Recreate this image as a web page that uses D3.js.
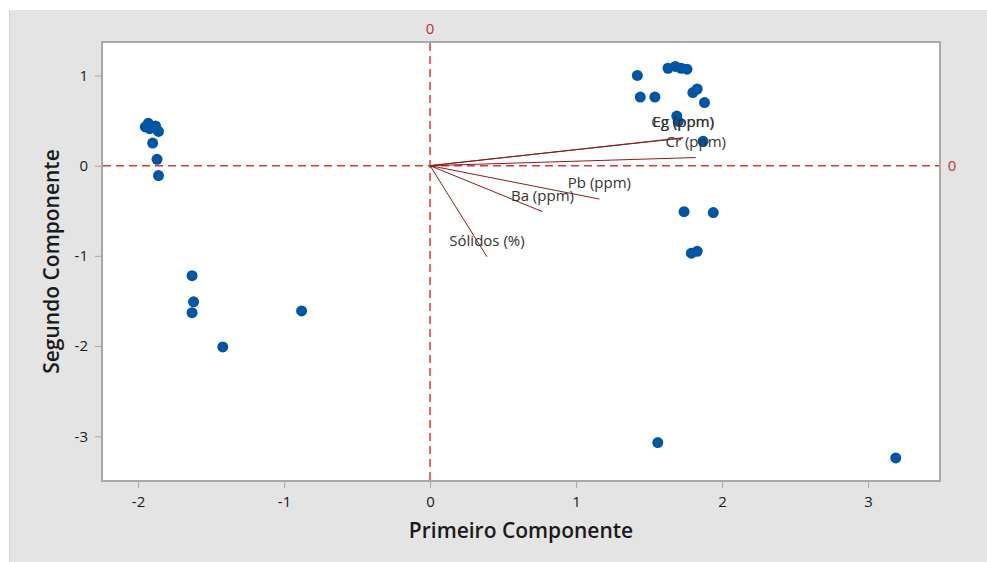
<!DOCTYPE html>
<html>
<head>
<meta charset="utf-8">
<script src="https://cdn.jsdelivr.net/npm/d3@7"></script>
<style>
  html, body { margin: 0; padding: 0; background: #ffffff; }
  svg { display: block; font-family: "Open Sans", "Noto Sans", sans-serif; }
</style>
</head>
<body>
<svg id="chart" width="987" height="562"></svg>
<script>
// Principal component scores (first, second)
const scoreX = [-1.93, -1.95, -1.92, -1.88, -1.86, -1.90, -1.87, -1.86,
                -1.63, -1.62, -1.63, -1.42, -0.88,
                 1.42, 1.63, 1.68, 1.72, 1.76, 1.44, 1.54, 1.80, 1.83, 1.88, 1.69, 1.70, 1.87,
                 1.74, 1.94, 1.79, 1.83,
                 1.56, 3.19];
const scoreY = [ 0.47, 0.43, 0.41, 0.44, 0.38, 0.25, 0.07, -0.11,
                -1.22, -1.51, -1.63, -2.01, -1.61,
                 1.00, 1.08, 1.10, 1.08, 1.07, 0.76, 0.76, 0.81, 0.85, 0.70, 0.55, 0.49, 0.27,
                -0.51, -0.52, -0.97, -0.95,
                -3.07, -3.24];

// Variable loadings (vector end points)
const varNames = ["Cg (ppm)", "Eg (ppm)", "Cr (ppm)", "Pb (ppm)", "Ba (ppm)", "Sólidos (%)"];
const loadX = [1.73, 1.735, 1.82, 1.16, 0.77, 0.39];
const loadY = [0.305, 0.31, 0.09, -0.37, -0.51, -1.01];

const xTicks = [-2, -1, 0, 1, 2, 3];
const yTicks = [1, 0, -1, -2, -3];

const svg = d3.select("#chart");
const W = 987, H = 562;
const m = { left: 102, right: 940, top: 42, bottom: 481 };

// Panel background
svg.append("rect").attr("x", 9).attr("y", 10).attr("width", W - 9).attr("height", H - 10)
  .attr("fill", "#e4e4e4");
svg.append("line").attr("x1", 9.5).attr("x2", 9.5).attr("y1", 10).attr("y2", H)
  .attr("stroke", "#d2d2d2").attr("stroke-width", 1);

const x = d3.scaleLinear().domain([-2.247, 3.493]).range([m.left, m.right]);
const y = d3.scaleLinear().domain([-3.496, 1.371]).range([m.bottom, m.top]);

// Plot area
svg.append("rect").attr("x", m.left).attr("y", m.top)
  .attr("width", m.right - m.left).attr("height", m.bottom - m.top)
  .attr("fill", "#ffffff").attr("stroke", "#a8a8a8").attr("stroke-width", 2);

// Axes (plain hyphen for negative ticks)
const fmt = d => String(d);
const xAxis = svg.append("g").attr("transform", `translate(0,${m.bottom + 1})`)
  .call(d3.axisBottom(x).tickValues(xTicks).tickSize(6).tickPadding(8).tickFormat(fmt));
const yAxis = svg.append("g").attr("transform", `translate(${m.left - 1},0)`)
  .call(d3.axisLeft(y).tickValues(yTicks).tickSize(6).tickPadding(7).tickFormat(fmt));
[xAxis, yAxis].forEach(g => {
  g.select(".domain").remove();
  g.selectAll(".tick line").attr("stroke", "#a8a8a8");
  g.selectAll(".tick text").attr("fill", "#1a1a1a").attr("font-size", 15)
    .attr("font-family", "'Liberation Sans Narrow', 'Open Sans', sans-serif");
});

// Axis titles
svg.append("text").attr("x", (m.left + m.right) / 2).attr("y", 538)
  .attr("text-anchor", "middle").attr("font-size", 21).attr("font-weight", 600)
  .attr("fill", "#1a1a1a").text("Primeiro Componente");
svg.append("text").attr("transform", `translate(59,${(m.top + m.bottom) / 2}) rotate(-90)`)
  .attr("text-anchor", "middle").attr("font-size", 21).attr("font-weight", 600)
  .attr("fill", "#1a1a1a").text("Segundo Componente");

// Reference lines at zero
const refColor = "#e03535";
svg.append("line").attr("x1", x(0)).attr("x2", x(0)).attr("y1", m.top + 1).attr("y2", m.bottom - 1)
  .attr("stroke", refColor).attr("stroke-width", 1.5).attr("stroke-dasharray", "8,5");
svg.append("line").attr("x1", m.left + 1).attr("x2", m.right - 1).attr("y1", y(0)).attr("y2", y(0))
  .attr("stroke", refColor).attr("stroke-width", 1.5).attr("stroke-dasharray", "8,5");
svg.append("text").attr("x", x(0)).attr("y", 34).attr("text-anchor", "middle")
  .attr("font-size", 15).attr("fill", "#c03030").text("0");
svg.append("text").attr("x", 952).attr("y", y(0) + 5).attr("text-anchor", "middle")
  .attr("font-size", 15).attr("fill", "#c03030").text("0");

// Loading vectors
const vecColor = "#8e1c1c";
svg.append("g").selectAll("line").data(varNames).join("line")
  .attr("x1", x(0)).attr("y1", y(0))
  .attr("x2", (d, i) => x(loadX[i])).attr("y2", (d, i) => y(loadY[i]))
  .attr("stroke", vecColor).attr("stroke-width", 1);

// Score points
svg.append("g").selectAll("circle").data(scoreX).join("circle")
  .attr("cx", (d, i) => x(scoreX[i])).attr("cy", (d, i) => y(scoreY[i]))
  .attr("r", 5.5).attr("fill", "#0055a5");

// Vector labels
svg.append("g").selectAll("text").data(varNames).join("text")
  .attr("x", (d, i) => x(loadX[i]))
  .attr("y", (d, i) => y(loadY[i]) - 11)
  .attr("text-anchor", "middle").attr("font-size", 15).attr("fill", "#333333")
  .text(d => d);
</script>
</body>
</html>
